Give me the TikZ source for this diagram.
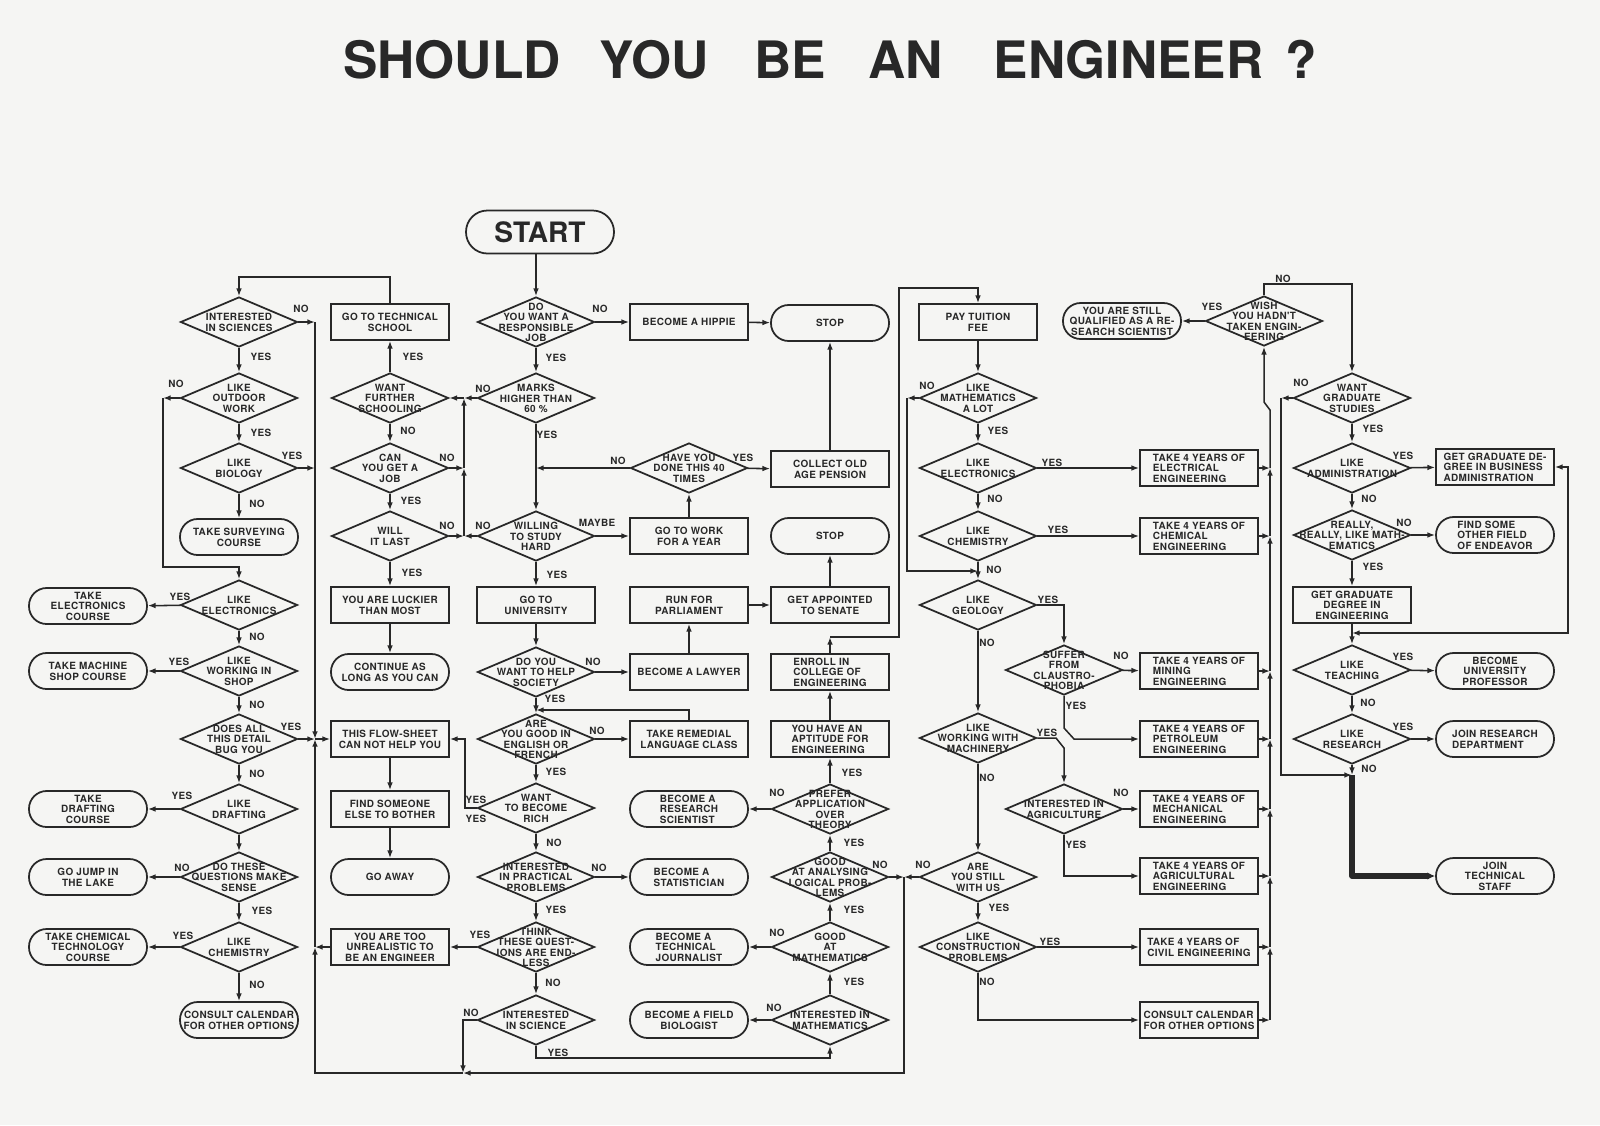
\documentclass[tikz,border=0pt]{standalone}
\usepackage{fontspec}
\setmainfont{TeX Gyre Heros}
\newfontfamily\bodyfont{TeX Gyre Heros}[LetterSpace=3.5]
\usetikzlibrary{shapes.geometric,arrows.meta}
\definecolor{ink}{RGB}{40,40,40}
\definecolor{paper}{RGB}{245,245,243}
\newcommand\ntx[2][c]{\makebox[0pt]{\raisebox{-0.41em}[0pt][0pt]{\begin{tabular}{@{}#1@{}}#2\end{tabular}}}}
\newcounter{labc}
\newcommand\mklab[2]{\stepcounter{labc}\node[lbl] (lab\arabic{labc}) at (#1) {#2};}
\tikzset{
  every node/.style={font=\bodyfont\fontsize{8.5}{8.3}\selectfont\bfseries, text=ink},
  dia/.style={draw=ink, line width=1.5pt, shape=diamond, minimum width=35.1mm, minimum height=15mm, inner sep=0pt},
  box/.style={draw=ink, line width=1.5pt, rectangle, minimum width=35.4mm, minimum height=10.8mm, inner sep=0pt},
  term/.style={box, rounded corners=5.3mm},
  lbl/.style={inner sep=0pt},
  con/.style={draw=ink, line width=1.3pt, -{Latex[length=2.3mm,width=1.7mm]}},
  contwo/.style={draw=ink, line width=1.3pt, {Latex[length=2.3mm,width=1.7mm]}-{Latex[length=2.3mm,width=1.7mm]}},
  heavy/.style={draw=ink, line width=4.5pt, line join=round, -{Latex[length=2.3mm,width=2.2mm]}}
}
\begin{document}
\begin{tikzpicture}[x=0.3mm, y=-0.3mm]
\useasboundingbox (0,0) rectangle (1600,1125);
\fill[paper] (0,0) rectangle (1600,1125);

\node[font=\fontsize{44}{44}\selectfont\bfseries, text=ink] (title) at (830,60)
  {SHOULD\hspace{1.17cm}YOU\hspace{1.38cm}BE\hspace{1.26cm}AN\hspace{1.53cm}ENGINEER\hspace{0.66cm}?};

% ---------- column 1 ----------
\node[dia] (sci)   at (239,322) {\ntx{INTERESTED\\IN SCIENCES}};
\node[dia] (outd)  at (239,398) {\ntx{LIKE\\OUTDOOR\\WORK}};
\node[dia] (bio)   at (239,468) {\ntx{LIKE\\BIOLOGY}};
\node[term] (survey) at (239,537) {\ntx{TAKE SURVEYING\\COURSE}};
\node[dia] (elecL) at (239,605) {\ntx{LIKE\\ELECTRONICS}};
\node[dia] (shop)  at (239,671) {\ntx{LIKE\\WORKING IN\\SHOP}};
\node[dia] (bug)   at (239,739) {\ntx{DOES ALL\\THIS DETAIL\\BUG YOU}};
\node[dia] (draft) at (239,809) {\ntx{LIKE\\DRAFTING}};
\node[dia] (sense) at (239,877) {\ntx{DO THESE\\QUESTIONS MAKE\\SENSE}};
\node[dia] (chemL) at (239,947) {\ntx{LIKE\\CHEMISTRY}};
\node[term] (calL) at (239,1020) {\ntx{CONSULT CALENDAR\\FOR OTHER OPTIONS}};

\node[term] (elecC)  at (88,606) {\ntx{TAKE\\ELECTRONICS\\COURSE}};
\node[term] (machC)  at (88,671) {\ntx{TAKE MACHINE\\SHOP COURSE}};
\node[term] (draftC) at (88,809) {\ntx{TAKE\\DRAFTING\\COURSE}};
\node[term] (lake)   at (88,877) {\ntx{GO JUMP IN\\THE LAKE}};
\node[term] (chemC)  at (88,947) {\ntx{TAKE CHEMICAL\\TECHNOLOGY\\COURSE}};

% ---------- column 2 ----------
\node[box] (tech)    at (390,322) {\ntx{GO TO TECHNICAL\\SCHOOL}};
\node[dia] (further) at (390,398) {\ntx{WANT\\FURTHER\\SCHOOLING}};
\node[dia] (job)     at (390,468) {\ntx{CAN\\YOU GET A\\JOB}};
\node[dia] (last)    at (390,536) {\ntx{WILL\\IT LAST}};
\node[box] (lucky)   at (390,605) {\ntx{YOU ARE LUCKIER\\THAN MOST}};
\node[term] (cont)   at (390,672) {\ntx{CONTINUE AS\\LONG AS YOU CAN}};
\node[box] (flow)    at (390,739) {\ntx{THIS FLOW-SHEET\\CAN NOT HELP YOU}};
\node[box] (find)    at (390,809) {\ntx{FIND SOMEONE\\ELSE TO BOTHER}};
\node[term] (away)   at (390,877) {\ntx{GO AWAY}};
\node[box] (unreal)  at (390,947) {\ntx{YOU ARE TOO\\UNREALISTIC TO\\BE AN ENGINEER}};

% ---------- column 3 ----------
\node[term, minimum width=44.4mm, minimum height=12.9mm, rounded corners=6.4mm,
      font=\fontsize{24}{24}\selectfont\bfseries] (start) at (540,232) {\ntx{START}};
\node[dia] (resp)    at (536,322) {\ntx{DO\\YOU WANT A\\RESPONSIBLE\\JOB}};
\node[dia] (marks)   at (536,398) {\ntx{MARKS\\HIGHER THAN\\60 \%}};
\node[dia] (willing) at (536,536) {\ntx{WILLING\\TO STUDY\\HARD}};
\node[box] (univ)    at (536,605) {\ntx{GO TO\\UNIVERSITY}};
\node[dia] (help)    at (536,672) {\ntx{DO YOU\\WANT TO HELP\\SOCIETY}};
\node[dia] (engl)    at (536,739) {\ntx{ARE\\YOU GOOD IN\\ENGLISH OR\\FRENCH}};
\node[dia] (rich)    at (536,808) {\ntx{WANT\\TO BECOME\\RICH}};
\node[dia] (pract)   at (536,877) {\ntx{INTERESTED\\IN PRACTICAL\\PROBLEMS}};
\node[dia] (endless) at (536,947) {\ntx{THINK\\THESE QUEST-\\IONS ARE END-\\LESS}};
\node[dia] (isci)    at (536,1020) {\ntx{INTERESTED\\IN SCIENCE}};

% ---------- column 4 ----------
\node[box] (hippie)   at (689,322) {\ntx{BECOME A HIPPIE}};
\node[dia] (forty)    at (689,468) {\ntx{HAVE YOU\\DONE THIS 40\\TIMES}};
\node[box] (work)     at (689,536) {\ntx{GO TO WORK\\FOR A YEAR}};
\node[box] (parl)     at (689,605) {\ntx{RUN FOR\\PARLIAMENT}};
\node[box] (lawyer)   at (689,672) {\ntx{BECOME A LAWYER}};
\node[box] (remedial) at (689,739) {\ntx{TAKE REMEDIAL\\LANGUAGE CLASS}};
\node[term] (rsci)    at (689,809) {\ntx[l]{BECOME A\\RESEARCH\\SCIENTIST}};
\node[term] (stat)    at (689,877) {\ntx[l]{BECOME A\\STATISTICIAN}};
\node[term] (journ)   at (689,947) {\ntx[l]{BECOME A\\TECHNICAL\\JOURNALIST}};
\node[term] (fbio)    at (689,1020) {\ntx{BECOME A FIELD\\BIOLOGIST}};

% ---------- column 5 ----------
\node[term] (stop1)  at (830,323) {\ntx{STOP}};
\node[box] (pension) at (830,469) {\ntx{COLLECT OLD\\AGE PENSION}};
\node[term] (stop2)  at (830,536) {\ntx{STOP}};
\node[box] (senate)  at (830,605) {\ntx{GET APPOINTED\\TO SENATE}};
\node[box] (enroll)  at (830,672) {\ntx[l]{ENROLL IN\\COLLEGE OF\\ENGINEERING}};
\node[box] (apt)     at (830,739) {\ntx[l]{YOU HAVE AN\\APTITUDE FOR\\ENGINEERING}};
\node[dia] (prefer)  at (830,809) {\ntx{PREFER\\APPLICATION\\OVER\\THEORY}};
\node[dia] (logic)   at (830,877) {\ntx{GOOD\\AT ANALYSING\\LOGICAL PROB-\\LEMS}};
\node[dia] (gmath)   at (830,947) {\ntx{GOOD\\AT\\MATHEMATICS}};
\node[dia] (imath)   at (830,1020) {\ntx{INTERESTED IN\\MATHEMATICS}};

% ---------- column 6 ----------
\node[box] (tuition) at (978,322) {\ntx{PAY TUITION\\FEE}};
\node[dia] (mathlot) at (978,398) {\ntx{LIKE\\MATHEMATICS\\A LOT}};
\node[dia] (elecR)   at (978,468) {\ntx{LIKE\\ELECTRONICS}};
\node[dia] (chemR)   at (978,536) {\ntx{LIKE\\CHEMISTRY}};
\node[dia] (geo)     at (978,605) {\ntx{LIKE\\GEOLOGY}};
\node[dia] (mach)    at (978,738) {\ntx{LIKE\\WORKING WITH\\MACHINERY}};
\node[dia] (still)   at (978,877) {\ntx{ARE\\YOU STILL\\WITH US}};
\node[dia] (constr)  at (978,947) {\ntx{LIKE\\CONSTRUCTION\\PROBLEMS}};
\node[dia] (claus)   at (1064,670) {\ntx{SUFFER\\FROM\\CLAUSTRO-\\PHOBIA}};
\node[dia] (agri)    at (1064,809) {\ntx{INTERESTED IN\\AGRICULTURE}};

% ---------- column 7 ----------
\node[term] (qual)   at (1122,321) {\ntx{YOU ARE STILL\\QUALIFIED AS A RE-\\SEARCH SCIENTIST}};
\node[box] (eleceng) at (1199,468) {\ntx[l]{TAKE 4 YEARS OF\\ELECTRICAL\\ENGINEERING}};
\node[box] (chemeng) at (1199,536) {\ntx[l]{TAKE 4 YEARS OF\\CHEMICAL\\ENGINEERING}};
\node[box] (mineng)  at (1199,671) {\ntx[l]{TAKE 4 YEARS OF\\MINING\\ENGINEERING}};
\node[box] (peteng)  at (1199,739) {\ntx[l]{TAKE 4 YEARS OF\\PETROLEUM\\ENGINEERING}};
\node[box] (mecheng) at (1199,809) {\ntx[l]{TAKE 4 YEARS OF\\MECHANICAL\\ENGINEERING}};
\node[box] (agreng)  at (1199,876) {\ntx[l]{TAKE 4 YEARS OF\\AGRICULTURAL\\ENGINEERING}};
\node[box] (civeng)  at (1199,947) {\ntx[l]{TAKE 4 YEARS OF\\CIVIL ENGINEERING}};
\node[box] (calR)    at (1199,1020) {\ntx[l]{CONSULT CALENDAR\\FOR OTHER OPTIONS}};

% ---------- column 8/9 ----------
\node[dia] (wish)     at (1264,321) {\ntx{WISH\\YOU HADN'T\\TAKEN ENGIN-\\EERING}};
\node[dia] (grad)     at (1352,398) {\ntx{WANT\\GRADUATE\\STUDIES}};
\node[dia] (admin)    at (1352,468) {\ntx{LIKE\\ADMINISTRATION}};
\node[dia] (really)   at (1352,535) {\ntx{REALLY,\\REALLY, LIKE MATH-\\EMATICS}};
\node[box] (gradeng)  at (1352,605) {\ntx{GET GRADUATE\\DEGREE IN\\ENGINEERING}};
\node[dia] (teach)    at (1352,670) {\ntx{LIKE\\TEACHING}};
\node[dia] (research) at (1352,739) {\ntx{LIKE\\RESEARCH}};
\node[box] (bizadm)    at (1495,467) {\ntx[l]{GET GRADUATE DE-\\GREE IN BUSINESS\\ADMINISTRATION}};
\node[term] (endeavor) at (1495,535) {\ntx[l]{FIND SOME\\OTHER FIELD\\OF ENDEAVOR}};
\node[term] (prof)     at (1495,671) {\ntx{BECOME\\UNIVERSITY\\PROFESSOR}};
\node[term] (resdep)   at (1495,739) {\ntx[l]{JOIN RESEARCH\\DEPARTMENT}};
\node[term] (techstaff) at (1495,876) {\ntx{JOIN\\TECHNICAL\\STAFF}};

% ---------- coordinates ----------
\coordinate (jF) at (464,398);
\coordinate (jJ) at (464,468);
\coordinate (jL) at (464,536);
\coordinate (t1) at (239,277);
\coordinate (jS) at (315,322);
\coordinate (jB2) at (315,468);
\coordinate (jFL) at (315,739);
\coordinate (o0) at (163,398);
\coordinate (o2) at (239,567);
\coordinate (jA) at (904,877);
\coordinate (jB) at (463,1073);
\coordinate (bL) at (315,1073);
\coordinate (jU) at (315,947);
\coordinate (cI) at (830,1058);
\coordinate (cR) at (465,739);
\coordinate (cE) at (536,710);
\coordinate (c40) at (536,468);
\coordinate (n1) at (830,637);
\coordinate (n2) at (899,288);
\coordinate (m0) at (907,398);
\coordinate (cG) at (978,571);
\coordinate (w1) at (1264,284);
\coordinate (g0) at (1281,398);
\coordinate (jR) at (1352,775);
\coordinate (jT) at (1352,633);

% ---------- connectors: left part ----------
\draw[con] (resp.north |- start.south) -- (resp);
\draw[con] (resp) -- (hippie);
\draw[con] (hippie) -- (stop1);
\draw[con] (resp) -- (marks);
\draw[con] (marks) -- (jF);
\draw[con] (jF) -- (further);
\draw[con] (jL) -- (jJ);
\draw[con] (jJ) -- (jF);
\draw[con] (job) -- (jJ);
\draw[con] (last) -- (jL);
\draw[con] (willing) -- (jL);
\draw[con] (further) -- (tech);
\draw[con] (tech.north) |- (t1) -- (sci);
\draw[con] (further) -- (job);
\draw[con] (job) -- (last);
\draw[con] (last) -- (lucky);
\draw[con] (lucky) -- (cont);
\draw[con] (flow) -- (find);
\draw[con] (find) -- (away);
\draw[con] (sci) -- (outd);
\draw[con] (outd) -- (bio);
\draw[con] (bio) -- (survey);
\draw[con] (sci) -- (jS);
\draw[con] (jS) -- (jFL);
\draw[con] (bio) -- (jB2);
\draw[con] (bug) -- (jFL);
\draw[con] (jFL) -- (flow);
\draw[con] (outd) -- (o0);
\draw[con] (o0) |- (o2) -- (elecL);
\draw[con] (elecL) -- (elecC);
\draw[con] (elecL) -- (shop);
\draw[con] (shop) -- (machC);
\draw[con] (shop) -- (bug);
\draw[con] (bug) -- (draft);
\draw[con] (draft) -- (draftC);
\draw[con] (draft) -- (sense);
\draw[con] (sense) -- (lake);
\draw[con] (sense) -- (chemL);
\draw[con] (chemL) -- (chemC);
\draw[con] (chemL) -- (calL);

% ---------- bottom loop ----------
\draw[con] (still) -- (jA);
\draw[con] (logic) -- (jA);
\draw[con] (jA) |- (jB);
\draw[con] (jB) -- (bL) -- (jU);
\draw[con] (jU) -- (jFL);
\draw[con] (unreal) -- (jU);
\draw[con] (isci.west) -| (jB);
\draw[con] (isci.south) |- (cI) -- (imath);

% ---------- middle ----------
\draw[con] (endless) -- (unreal);
\draw[con] (endless) -- (isci);
\draw[con] (pract) -- (stat);
\draw[con] (pract) -- (endless);
\draw[con] (rich) -- (pract);
\draw[con] (rich.west) -| (cR) -- (flow);
\draw[con] (engl) -- (rich);
\draw[con] (engl) -- (remedial);
\draw[con] (remedial.north) |- (cE);
\draw[con] (help) -- (engl);
\draw[con] (help) -- (lawyer);
\draw[con] (lawyer) -- (parl);
\draw[con] (parl) -- (senate);
\draw[con] (senate) -- (stop2);
\draw[con] (univ) -- (help);
\draw[con] (willing) -- (univ);
\draw[con] (willing) -- (work);
\draw[con] (work) -- (forty);
\draw[con] (forty) -- (pension);
\draw[con] (pension) -- (stop1);
\draw[con] (forty) -- (c40);
\draw[con] (marks) -- (willing);
\draw[con] (imath) -- (gmath);
\draw[con] (imath) -- (fbio);
\draw[con] (gmath) -- (logic);
\draw[con] (gmath) -- (journ);
\draw[con] (logic) -- (prefer);
\draw[con] (prefer) -- (rsci);
\draw[con] (prefer) -- (apt);
\draw[con] (apt) -- (enroll);
\draw[con] (enroll) -- (n1);
\draw[con] (n1) -| (n2) -| (tuition.north);

% ---------- right part ----------
\draw[con] (tuition) -- (mathlot);
\draw[con] (mathlot) -- (elecR);
\draw[con] (mathlot) -- (m0);
\draw[con] (m0) |- (cG);
\draw[con] (elecR) -- (eleceng);
\draw[con] (elecR) -- (chemR);
\draw[con] (chemR) -- (chemeng);
\draw[con] (chemR) -- (geo);
\draw[con] (geo.east) -| (claus.north);
\draw[con] (geo) -- (mach);
\draw[con] (claus) -- (mineng);
\draw[con] (claus.south) -- (1064,728) -- (1074,739) -- (peteng.west);
\draw[con] (mach.east) -- (1056,738) -- (1064,748) -- (agri.north);
\draw[con] (mach) -- (still);
\draw[con] (agri) -- (mecheng);
\draw[con] (agri.south) |- (agreng.west);
\draw[con] (still) -- (constr);
\draw[con] (constr) -- (civeng);
\draw[con] (constr.south) |- (calR.west);

\foreach \n/\yy in {eleceng/468, chemeng/536, mineng/671, peteng/739, mecheng/809, agreng/876, civeng/947, calR/1020}{
  \coordinate (v\n) at (1270,\yy);
  \draw[con] (\n.east) -- (v\n);
}
\draw[con] (vcalR) -- (vciveng);
\draw[con] (vciveng) -- (vagreng);
\draw[con] (vagreng) -- (vmecheng);
\draw[con] (vmecheng) -- (vpeteng);
\draw[con] (vpeteng) -- (vmineng);
\draw[con] (vmineng) -- (vchemeng);
\draw[con] (vchemeng) -- (veleceng);
\draw[con] (veleceng) -- (1270,410) -- (1264,402) -- (wish.south);

\draw[con] (wish) -- (qual);
\draw[con] (wish.north) -- (w1) -| (grad.north);
\draw[con] (grad) -- (admin);
\draw[con] (grad) -- (g0);
\draw[con] (g0) |- (jR);
\draw[con] (admin) -- (bizadm);
\draw[con] (admin) -- (really);
\draw[con] (really) -- (endeavor);
\draw[con] (really) -- (gradeng);
\draw[con] (gradeng) -- (teach);
\draw[contwo] (bizadm.east) -| (1568,633) -- (jT);
\draw[con] (teach) -- (prof);
\draw[con] (teach) -- (research);
\draw[con] (research) -- (resdep);
\draw[con] (research) -- (jR);
\draw[heavy] (jR) |- (techstaff.west);

% ---------- labels ----------
\mklab{301,309}{NO}
\mklab{261,357}{YES}
\mklab{176,384}{NO}
\mklab{261,433}{YES}
\mklab{292,456}{YES}
\mklab{257,504}{NO}
\mklab{180,597}{YES}
\mklab{257,637}{NO}
\mklab{179,662}{YES}
\mklab{257,705}{NO}
\mklab{291,727}{YES}
\mklab{257,774}{NO}
\mklab{182,796}{YES}
\mklab{182,868}{NO}
\mklab{262,911}{YES}
\mklab{183,936}{YES}
\mklab{257,985}{NO}
\mklab{413,357}{YES}
\mklab{408,431}{NO}
\mklab{447,458}{NO}
\mklab{411,501}{YES}
\mklab{447,526}{NO}
\mklab{412,573}{YES}
\mklab{600,309}{NO}
\mklab{556,358}{YES}
\mklab{483,389}{NO}
\mklab{547,435}{YES}
\mklab{618,461}{NO}
\mklab{743,458}{YES}
\mklab{483,526}{NO}
\mklab{597,523}{MAYBE}
\mklab{557,575}{YES}
\mklab{593,662}{NO}
\mklab{555,699}{YES}
\mklab{597,731}{NO}
\mklab{556,772}{YES}
\mklab{476,800}{YES}
\mklab{476,819}{YES}
\mklab{554,843}{NO}
\mklab{599,868}{NO}
\mklab{556,910}{YES}
\mklab{480,935}{YES}
\mklab{553,983}{NO}
\mklab{471,1013}{NO}
\mklab{558,1053}{YES}
\mklab{777,793}{NO}
\mklab{852,773}{YES}
\mklab{854,843}{YES}
\mklab{880,865}{NO}
\mklab{854,910}{YES}
\mklab{777,933}{NO}
\mklab{854,982}{YES}
\mklab{774,1008}{NO}
\mklab{927,386}{NO}
\mklab{998,431}{YES}
\mklab{1052,463}{YES}
\mklab{995,499}{NO}
\mklab{1058,530}{YES}
\mklab{994,570}{NO}
\mklab{1048,600}{YES}
\mklab{987,643}{NO}
\mklab{1121,656}{NO}
\mklab{1076,706}{YES}
\mklab{1047,733}{YES}
\mklab{987,778}{NO}
\mklab{1121,793}{NO}
\mklab{1076,845}{YES}
\mklab{923,865}{NO}
\mklab{999,908}{YES}
\mklab{1050,942}{YES}
\mklab{987,982}{NO}
\mklab{1212,307}{YES}
\mklab{1283,279}{NO}
\mklab{1301,383}{NO}
\mklab{1373,429}{YES}
\mklab{1403,456}{YES}
\mklab{1369,499}{NO}
\mklab{1404,523}{NO}
\mklab{1373,567}{YES}
\mklab{1403,657}{YES}
\mklab{1368,703}{NO}
\mklab{1403,727}{YES}
\mklab{1369,769}{NO}
\end{tikzpicture}
\end{document}
